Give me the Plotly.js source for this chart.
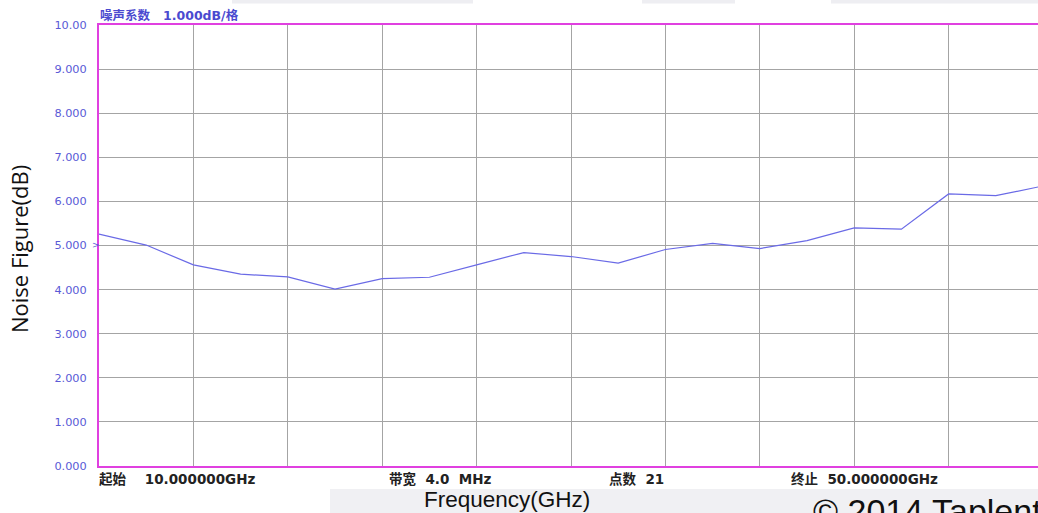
<!DOCTYPE html>
<html>
<head>
<meta charset="utf-8">
<script src="https://cdn.plot.ly/plotly-3.0.1.min.js"></script>
<style>
html,body{margin:0;padding:0;width:1038px;height:513px;overflow:hidden;background:#fff;}
#chart{width:1046px;height:513px;}
</style>
</head>
<body>
<div id="chart"></div>
<script>
// Frequency (GHz), 21 points from 10 to 50 GHz
const freqGHz = [10,12,14,16,18,20,22,24,26,28,30,32,34,36,38,40,42,44,46,48,50];
// Noise figure (dB)
const noiseFigure = [5.26,5.01,4.56,4.35,4.29,4.01,4.25,4.28,4.56,4.84,4.75,4.60,4.91,5.05,4.93,5.11,5.40,5.37,6.17,6.13,6.35];
const yTickVals = [0,1,2,3,4,5,6,7,8,9,10];
const yTickText = ["0.000","1.000","2.000","3.000","4.000","5.000","6.000","7.000","8.000","9.000","10.00"];

const L = 99, R = 1043, T = 25, B = 466;
const px = x => (x - L) / (R - L);
const py = y => (B - y) / (B - T);

const blueFont = {family: "DejaVu Sans, Noto Sans CJK SC", size: 11.3, color: "#5a5ad6"};
const infoFont = {family: "DejaVu Sans, Noto Sans CJK SC", size: 13.5, color: "#222222", weight: "bold"};

const trace = {
  x: freqGHz, y: noiseFigure, type: "scatter", mode: "lines",
  line: {color: "#6a6ae6", width: 1.2}, hoverinfo: "skip"
};

function ann(text, x, y, font, extra) {
  return Object.assign({text: text, xref: "paper", yref: "paper", x: px(x), y: py(y),
    showarrow: false, font: font, xanchor: "left", yanchor: "middle"}, extra || {});
}

const layout = {
  width: 1046, height: 513,
  margin: {l: L, r: 1046 - R, t: T, b: 513 - B},
  paper_bgcolor: "#ffffff", plot_bgcolor: "#ffffff",
  showlegend: false,
  xaxis: {
    range: [10, 50], tick0: 10, dtick: 4, showticklabels: false, ticks: "",
    showgrid: true, gridcolor: "#a4a4a4", gridwidth: 1, zeroline: false,
    showline: true, mirror: true, linecolor: "#e040e0", linewidth: 2
  },
  yaxis: {
    range: [0, 10], tickvals: yTickVals, ticktext: yTickText, ticks: "",
    showgrid: true, gridcolor: "#a4a4a4", gridwidth: 1, zeroline: false,
    showline: true, mirror: true, linecolor: "#e040e0", linewidth: 2,
    tickfont: blueFont, ticklabelstandoff: 8
  },
  shapes: [
    {type: "line", xref: "paper", yref: "y", x0: 0, x1: 1, y0: 5, y1: 5,
     line: {color: "#6a6a6a", width: 1}, layer: "below"},
    {type: "rect", xref: "paper", yref: "paper", x0: px(330), x1: px(1046), y0: py(489), y1: py(520),
     fillcolor: "#f0f0f3", line: {width: 0}, layer: "below"},
    {type: "rect", xref: "paper", yref: "paper", x0: px(232), x1: px(473), y0: py(0), y1: py(3.5),
     fillcolor: "#eeeef2", line: {width: 0}, layer: "below"},
    {type: "rect", xref: "paper", yref: "paper", x0: px(642), x1: px(735), y0: py(0), y1: py(3.5),
     fillcolor: "#eeeef2", line: {width: 0}, layer: "below"},
    {type: "rect", xref: "paper", yref: "paper", x0: px(831), x1: px(1046), y0: py(0), y1: py(3.5),
     fillcolor: "#eeeef2", line: {width: 0}, layer: "below"}
  ],
  annotations: [
    ann(">", 91, 245, {family: "DejaVu Sans", size: 9, color: "#5a5ad6"}, {borderpad: 0}),
    ann("噪声系数   1.000dB/格", 98, 16, {family: "DejaVu Sans, Noto Sans CJK SC", size: 12.5, color: "#4a4ad0", weight: "bold"}),
    ann("起始    10.000000GHz", 98, 478.5, infoFont, {borderpad: 0}),
    ann("带宽  4.0  MHz", 388, 478.5, infoFont, {borderpad: 0}),
    ann("点数  21", 608, 478.5, infoFont, {borderpad: 0}),
    ann("终止  50.000000GHz", 790, 478.5, infoFont, {borderpad: 0}),
    ann("Frequency(GHz)", 507, 499.5, {family: "Liberation Sans", size: 22.5, color: "#111111"}, {xanchor: "center", borderpad: 0}),
    ann("Noise Figure(dB)", 19, 249, {family: "Open Sans", size: 22, color: "#111111"}, {xanchor: "center", textangle: -90}),
    ann("© 2014 Taplentcorp", 812, 491, {family: "Liberation Sans", size: 34, color: "#111111"}, {yanchor: "top", borderpad: 0})
  ]
};

Plotly.newPlot("chart", [trace], layout, {displayModeBar: false, staticPlot: true});
</script>
</body>
</html>
